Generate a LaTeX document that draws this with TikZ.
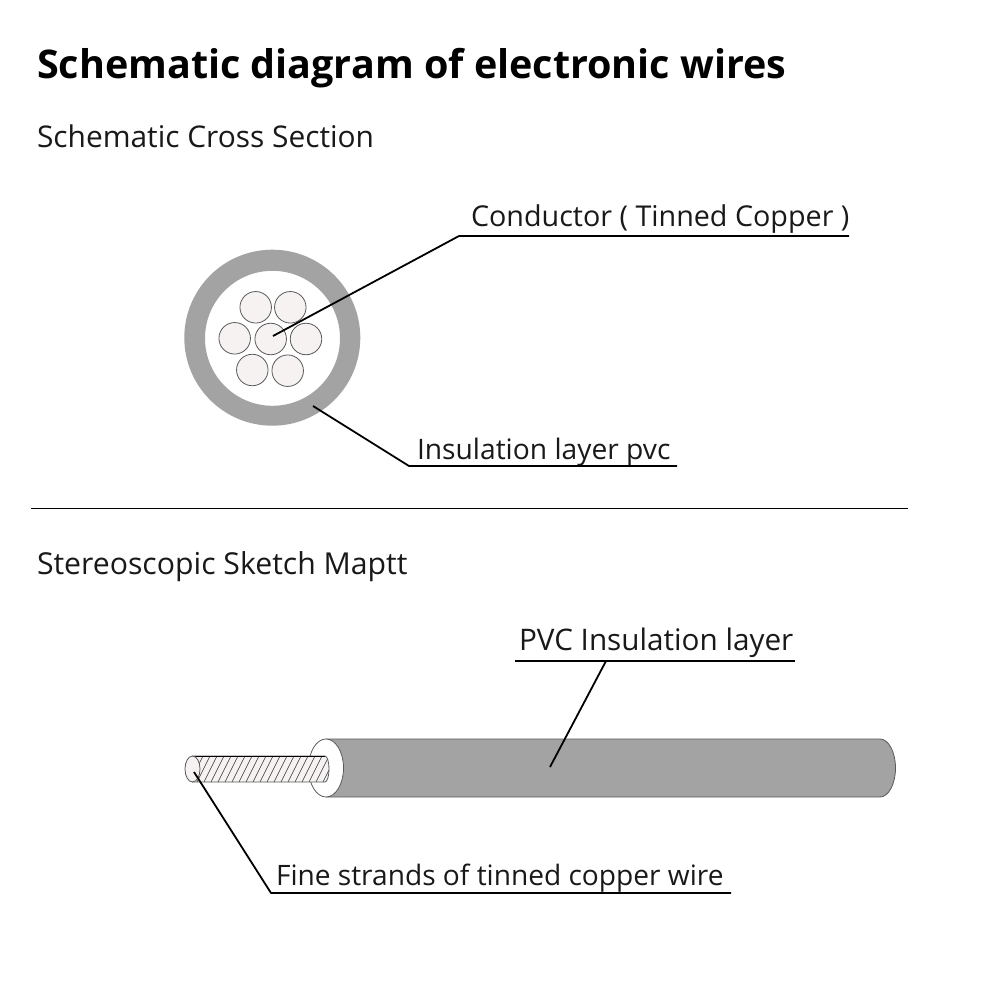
\documentclass[tikz,border=0pt]{standalone}
\usepackage{fontspec}
\usetikzlibrary{shapes.geometric}
\setmainfont{Open Sans}
\definecolor{insul}{HTML}{A3A3A3}
\definecolor{strandfill}{HTML}{F5F2F1}
\definecolor{edgegray}{HTML}{5A5A5A}
\tikzset{
  txt/.style={anchor=base west,inner sep=0pt,outer sep=0pt,font=\fontsize{#1}{32}\selectfont,text=black!90},
  ttl/.style={anchor=base west,inner sep=0pt,outer sep=0pt,font=\fontsize{39.5}{44}\selectfont\bfseries,text=black},
  leader/.style={draw=black,line width=1.8pt,line join=round},
  strand/.style={circle,draw=edgegray,fill=strandfill,line width=0.8pt,minimum size=31.5pt,inner sep=0pt},
  thin edge/.style={draw=edgegray,line width=0.8pt},
  hatchline/.style={draw=black!80,line width=0.5pt}
}
\def\bodypath{(326,739) -- (880,739) .. controls (888.5,739) and (895.5,752) .. (895.5,768) .. controls (895.5,784) and (888.5,797) .. (880,797) -- (326,797)}
\def\corepath{(192,756) -- (325,756) .. controls (327.2,756) and (329,761.8) .. (329,769) .. controls (329,776.2) and (327.2,782) .. (325,782) -- (192,782)}
\begin{document}
\begin{tikzpicture}[x=1pt,y=-1pt]
\useasboundingbox (0,0) rectangle (1000,1000);
\fill[white] (0,0) rectangle (1000,1000);
\node[ttl] (title) at (37,79) {Schematic diagram of electronic wires};
\node[txt=29.9] (sec1) at (37,147.5) {Schematic Cross Section};
\node[txt=30.2] (sec2) at (37,574) {Stereoscopic Sketch Maptt};
\node[txt=28.7] (lcond) at (471,227) {Conductor ( Tinned Copper )};
\node[txt=28.2] (lins) at (417,459) {Insulation layer pvc};
\node[txt=29.7] (lpvc) at (519,650) {PVC Insulation layer};
\node[txt=28.1] (lfine) at (276,885) {Fine strands of tinned copper wire};
% cross section
\fill[insul,even odd rule] (272.3,337.7) circle[radius=88] (272.5,338.3) circle[radius=67.5];
\node[strand] (s1) at (255.7,307.3) {};
\node[strand] (s2) at (290.3,307.3) {};
\node[strand] (s3) at (234.7,338.3) {};
\node[strand] (s4) at (270.7,339) {};
\node[strand] (s5) at (306,339) {};
\node[strand] (s6) at (252.3,370) {};
\node[strand] (s7) at (287.7,370.7) {};
% divider
\coordinate (dl) at (31,508.5);
\coordinate (dr) at (908,508.5);
\draw[black,line width=1pt] (dl) -- (dr);
% wire body
\fill[insul] \bodypath -- cycle;
\draw[thin edge] \bodypath;
% washer
\node[ellipse,draw=edgegray,fill=white,line width=0.8pt,minimum width=35pt,minimum height=58pt,inner sep=0pt] (washer) at (326,768) {};
% conductor
\fill[strandfill] \corepath -- cycle;
\begin{scope}
\clip \corepath -- cycle;
\foreach \i in {0,...,20}{
  \draw[hatchline] ({190+7*\i},782) -- ({190+7*\i+13},756);
}
\end{scope}
\draw[thin edge] \corepath;
\draw[draw=black,line width=1pt] (192,756) -- (325,756);
\node[ellipse,draw=edgegray,fill=strandfill,line width=0.8pt,minimum width=15pt,minimum height=26pt,inner sep=0pt] (tip) at (192.5,769) {};
% leaders
\coordinate (c0) at (273,336);
\coordinate (c1) at (459,236);
\coordinate (c2) at (849,236);
\draw[leader] (c0) -- (c1) -- (c2);
\coordinate (i0) at (313,406);
\coordinate (i1) at (409,466);
\coordinate (i2) at (677,466);
\draw[leader] (i0) -- (i1) -- (i2);
\coordinate (p0) at (550,767);
\coordinate (p1) at (606,661);
\coordinate (p2) at (515,661);
\coordinate (p3) at (795,661);
\draw[leader] (p0) -- (p1);
\draw[leader] (p2) -- (p3);
\coordinate (f0) at (194,772);
\coordinate (f1) at (271,893);
\coordinate (f2) at (731,893);
\draw[leader] (f0) -- (f1) -- (f2);
\end{tikzpicture}
\end{document}
